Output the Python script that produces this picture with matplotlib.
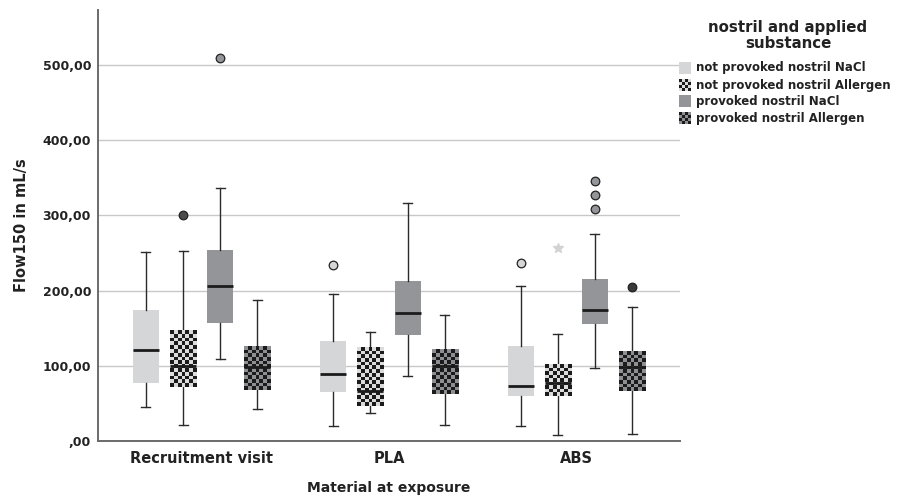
import numpy as np
import matplotlib
matplotlib.use("Agg")
import matplotlib.pyplot as plt
from matplotlib.patches import Rectangle
from matplotlib.colors import ListedColormap

# ---------------- data ----------------
groups = ["Recruitment visit", "PLA", "ABS"]
series_names = ["not provoked nostril NaCl", "not provoked nostril Allergen",
                "provoked nostril NaCl", "provoked nostril Allergen"]

np_nacl_whislo = [44.8, 20.4, 20.4]
np_nacl_q1 = [77.5, 65.6, 60.3]
np_nacl_med = [121.0, 89.0, 73.5]
np_nacl_q3 = [174.0, 133.0, 126.0]
np_nacl_whishi = [251.0, 196.0, 206.0]
np_nacl_out = [[], [234.0], [236.0]]
np_nacl_ext = [[], [], []]

np_all_whislo = [21.3, 36.8, 7.6]
np_all_q1 = [71.4, 46.5, 59.8]
np_all_med = [99.7, 66.5, 77.5]
np_all_q3 = [146.7, 124.6, 102.0]
np_all_whishi = [253.0, 145.0, 142.0]
np_all_out = [[300.0], [], []]
np_all_ext = [[], [], [256.0]]

p_nacl_whislo = [109.0, 86.4, 96.7]
p_nacl_q1 = [157.3, 141.4, 156.0]
p_nacl_med = [206.5, 169.8, 174.0]
p_nacl_q3 = [253.6, 212.4, 215.0]
p_nacl_whishi = [336.0, 316.0, 275.0]
p_nacl_out = [[509.0], [], [308.5, 327.0, 345.7]]
p_nacl_ext = [[], [], []]

p_all_whislo = [42.5, 21.7, 9.3]
p_all_q1 = [67.8, 62.0, 66.0]
p_all_med = [98.0, 100.0, 98.8]
p_all_q3 = [125.4, 121.0, 119.0]
p_all_whishi = [187.5, 168.0, 177.8]
p_all_out = [[], [], [205.0]]
p_all_ext = [[], [], []]

yticks = [0, 100, 200, 300, 400, 500]
ytick_labels = [",00", "100,00", "200,00", "300,00", "400,00", "500,00"]

series_stats = [
    (np_nacl_whislo, np_nacl_q1, np_nacl_med, np_nacl_q3, np_nacl_whishi, np_nacl_out, np_nacl_ext),
    (np_all_whislo, np_all_q1, np_all_med, np_all_q3, np_all_whishi, np_all_out, np_all_ext),
    (p_nacl_whislo, p_nacl_q1, p_nacl_med, p_nacl_q3, p_nacl_whishi, p_nacl_out, p_nacl_ext),
    (p_all_whislo, p_all_q1, p_all_med, p_all_q3, p_all_whishi, p_all_out, p_all_ext),
]

# ---------------- style ----------------
LIGHT = "#d5d6d8"
DARK = "#939598"
BLACK = "#1b1b1b"
CHECK_LIGHT = "#dcdcdc"
CHECK_DARK = "#8e8f92"
styles = [
    (LIGHT, False, None, LIGHT),
    (CHECK_LIGHT, True, CHECK_LIGHT, "#4a4a4a"),
    (DARK, False, None, DARK),
    (CHECK_DARK, True, CHECK_DARK, "#3a3a3a"),
]
offsets = [-0.297, -0.099, 0.099, 0.297]
box_w = 0.139
cap_w = 0.048

plt.rcParams["font.family"] = ["DejaVu Sans"]
plt.rcParams["font.weight"] = "bold"

W, H = 898, 498
fig = plt.figure(figsize=(W / 100, H / 100), dpi=100)
ax_l, ax_r, ax_t, ax_b = 98, 680, 10, 441
ax = fig.add_axes([ax_l / W, 1 - ax_b / H, (ax_r - ax_l) / W, (ax_b - ax_t) / H])
XLIM = (-0.553, 2.553)
YLIM = (0, 573)
ax.set_xlim(*XLIM)
ax.set_ylim(*YLIM)

px_per_x = (ax_r - ax_l) / (XLIM[1] - XLIM[0])
px_per_y = (ax_b - ax_t) / (YLIM[1] - YLIM[0])
cell_px = 3.7


def checker(nrows, ncols):
    return (np.indices((nrows, ncols)).sum(axis=0) % 2)


for si, (wlo, q1, med, q3, whi, outs, exts) in enumerate(series_stats):
    base, is_check, light_c, out_face = styles[si]
    positions = [g + offsets[si] for g in range(len(groups))]
    stats = []
    for g in range(len(groups)):
        stats.append(dict(whislo=wlo[g], q1=q1[g], med=med[g], q3=q3[g],
                          whishi=whi[g], fliers=outs[g], label=groups[g]))
    ax.bxp(stats, positions=positions, widths=box_w, patch_artist=True,
           showfliers=True, capwidths=cap_w,
           boxprops=dict(facecolor=base, edgecolor="none", linewidth=0),
           medianprops=dict(color=BLACK, linewidth=2.0, zorder=4),
           whiskerprops=dict(color="#2a2a2a", linewidth=1.0),
           capprops=dict(color="#2a2a2a", linewidth=1.0),
           flierprops=dict(marker="o", markersize=6.2, markerfacecolor=out_face,
                           markeredgecolor="#222222", markeredgewidth=0.9,
                           linestyle="none"))
    if is_check:
        for g in range(len(groups)):
            x0 = positions[g] - box_w / 2
            x1 = positions[g] + box_w / 2
            ncols = max(1, int(round(box_w * px_per_x / cell_px)))
            nrows = max(1, int(round((q3[g] - q1[g]) * px_per_y / cell_px)))
            ax.imshow(checker(nrows, ncols), cmap=ListedColormap([BLACK, light_c]),
                      extent=(x0, x1, q1[g], q3[g]), aspect="auto",
                      interpolation="nearest", zorder=2.5, origin="lower")
    for g in range(len(groups)):
        if exts[g]:
            ax.plot([positions[g]] * len(exts[g]), exts[g], linestyle="none",
                    marker="*", markersize=7, color="#d3d3d3",
                    markeredgecolor="#d3d3d3", zorder=3)

ax.set_xlim(*XLIM)
ax.set_ylim(*YLIM)

ax.set_xticks(range(len(groups)))
ax.set_xticklabels(groups, fontsize=10.5, fontweight="bold", color="#222222")
ax.set_yticks(yticks)
ax.set_yticklabels(ytick_labels, fontsize=9, fontweight="bold", color="#222222")
ax.tick_params(axis="both", length=0)
ax.tick_params(axis="x", pad=7)
ax.tick_params(axis="y", pad=5)

ax.yaxis.grid(True, color="#c8c8c8", linewidth=1.0)
ax.set_axisbelow(True)
for s in ["top", "right"]:
    ax.spines[s].set_visible(False)
for s in ["left", "bottom"]:
    ax.spines[s].set_color("#6a6a6a")
    ax.spines[s].set_linewidth(1.4)

ax.set_ylabel("Flow150 in mL/s", fontsize=10.5, fontweight="bold", color="#222222")
ax.yaxis.label.set_va("center")
ax.yaxis.set_label_coords((21.5 - ax_l) / (ax_r - ax_l), 0.5)
ax.set_xlabel("Material at exposure", fontsize=10, fontweight="bold", color="#222222")
ax.xaxis.label.set_va("center")
ax.xaxis.set_label_coords(0.5, (ax_b - 488) / (ax_b - ax_t))

# ---------------- legend (manual) ----------------
fig.text(788 / W, 1 - 35.5 / H, "nostril and applied\nsubstance", ha="center",
         va="center", fontsize=10.8, fontweight="bold", color="#222222",
         linespacing=1.1)
entry_y = [68, 85, 101, 118]
for si, name in enumerate(series_names):
    base, is_check, light_c, _ = styles[si]
    yc = entry_y[si]
    hx0, hx1 = 679, 691
    hy0, hy1 = yc - 6, yc + 6
    hax = fig.add_axes([hx0 / W, 1 - hy1 / H, (hx1 - hx0) / W, (hy1 - hy0) / H])
    hax.set_axis_off()
    if is_check:
        hax.imshow(checker(4, 4), cmap=ListedColormap([BLACK, light_c]),
                   aspect="auto", interpolation="nearest")
    else:
        hax.add_patch(Rectangle((0, 0), 1, 1, facecolor=base, edgecolor="none"))
        hax.set_xlim(0, 1)
        hax.set_ylim(0, 1)
    fig.text(696 / W, 1 - yc / H, name, ha="left", va="center", fontsize=8.5,
             fontweight="bold", color="#222222")

fig.savefig("out.png", dpi=100)
